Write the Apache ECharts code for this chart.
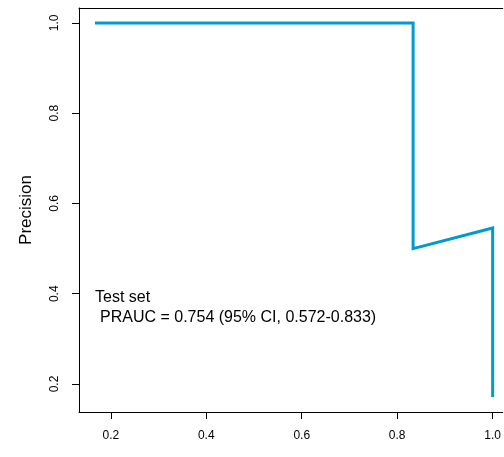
<!DOCTYPE html>
<html>
<head>
<meta charset="utf-8">
<script src="https://cdn.jsdelivr.net/npm/echarts@6/dist/echarts.min.js"></script>
<style>
  html, body { margin: 0; padding: 0; background: #fff; }
  #chart { width: 504px; height: 457px; }
</style>
</head>
<body>
<div id="chart"></div>
<script>
// Precision-recall curve for the test set
const recall    = [0.1667, 0.8333, 0.8333, 1.0, 1.0];
const precision = [1.0,    1.0,    0.5,    0.5455, 0.1714];
const xTicks = [0.2, 0.4, 0.6, 0.8, 1.0];
const yTicks = [0.2, 0.4, 0.6, 0.8, 1.0];
const yTitle = 'Precision';
const noteLines = ['Test set', 'PRAUC = 0.754 (95% CI, 0.572-0.833)'];

const chart = echarts.init(document.getElementById('chart'), null, { renderer: 'canvas' });

const fontFamily = 'Liberation Sans, Arial, sans-serif';
const X_MIN = 0.1333, X_MAX = 1.0211;

chart.setOption({
  animation: false,
  grid: { left: 79, top: 8, right: 0, height: 404, show: false },
  xAxis: [{
    type: 'value',
    position: 'bottom',
    min: X_MIN, max: X_MAX,
    splitLine: { show: false },
    axisLine: { show: true, lineStyle: { color: '#000', width: 1 } },
    axisTick: { show: true, length: 7, customValues: xTicks, lineStyle: { color: '#000' } },
    axisLabel: {
      customValues: xTicks, margin: 18, color: '#000', fontSize: 12, fontFamily,
      formatter: v => v.toFixed(1)
    }
  }, {
    // top frame line of the plot box
    type: 'value',
    position: 'top',
    min: X_MIN, max: X_MAX,
    splitLine: { show: false },
    axisLine: { show: true, lineStyle: { color: '#000', width: 1 } },
    axisTick: { show: false },
    axisLabel: { show: false }
  }],
  yAxis: {
    type: 'value',
    min: 0.138, max: 1.033,
    name: yTitle, nameLocation: 'middle', nameRotate: 90, nameGap: 44,
    nameTextStyle: { color: '#000', fontSize: 17, fontFamily },
    splitLine: { show: false },
    axisLine: { show: true, lineStyle: { color: '#000', width: 1 } },
    axisTick: { show: true, length: 7, customValues: yTicks, lineStyle: { color: '#000' } },
    axisLabel: {
      customValues: yTicks, rotate: 90, margin: 18, color: '#000', fontSize: 12, fontFamily,
      formatter: v => v.toFixed(1)
    }
  },
  series: [{
    type: 'line',
    xAxisIndex: 0,
    data: recall.map((r, i) => [r, precision[i]]),
    showSymbol: false,
    lineStyle: { color: '#009ACD', width: 3, join: 'miter' },
    clip: false
  }],
  graphic: [
    { type: 'text', left: 95, top: 290, style: { text: noteLines[0], fill: '#000', font: '16px ' + fontFamily } },
    { type: 'text', left: 100, top: 310, style: { text: noteLines[1], fill: '#000', font: '16px ' + fontFamily } }
  ]
});
</script>
</body>
</html>
